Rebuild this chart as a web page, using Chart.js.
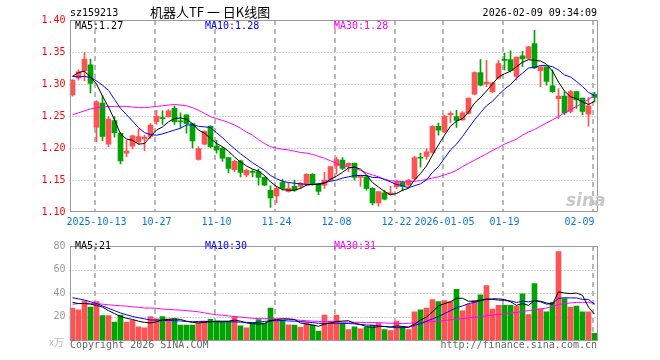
<!DOCTYPE html>
<html>
<head>
<meta charset="utf-8">
<script src="https://cdn.jsdelivr.net/npm/chart.js@4.4.1/dist/chart.umd.min.js"></script>
<style>
  body { margin: 0; background: #fff; }
  #wrap { position: relative; width: 660px; height: 360px; font-family: 'DejaVu Sans Mono', monospace; font-size: 10px; }
  #wrap canvas { position: absolute; left: 0; }
  .txt { position: absolute; white-space: pre; line-height: 10px; }
</style>
</head>
<body>
<div id="wrap">
  <canvas id="priceChart" width="660" height="236" style="top:0"></canvas>
  <canvas id="volChart" width="660" height="124" style="top:236px"></canvas>
  <div class="txt" style="left:70px;top:8px;">sz159213</div>
  <div class="txt" style="left:150px;top:5px;line-height:14px;font-size:13px;font-family:'Noto Sans CJK SC',sans-serif;">机器人TF 一 日K线图</div>
  <div class="txt" style="right:63px;top:8px;">2026-02-09 09:34:09</div>
  <div class="txt" style="left:75px;top:21px;color:#000;">MA5:1.27</div>
  <div class="txt" style="left:205px;top:21px;color:#0000ff;">MA10:1.28</div>
  <div class="txt" style="left:334px;top:21px;color:#ff00ff;">MA30:1.28</div>
  <div class="txt" style="left:75px;top:241px;color:#000;">MA5:21</div>
  <div class="txt" style="left:205px;top:241px;color:#0000ff;">MA10:30</div>
  <div class="txt" style="left:334px;top:241px;color:#ff00ff;">MA30:31</div>
  <div class="txt" style="left:49px;top:337px;color:#bbb;font-family:'Noto Sans CJK SC',sans-serif;">x万</div>
  <div class="txt" style="left:70px;top:340px;color:#666;">Copyright 2026 SINA.COM</div>
  <div class="txt" style="right:63px;top:340px;color:#666;">http://finance.sina.com.cn</div>
  <div class="txt" style="left:566px;top:190px;color:#c8c8c8;font:italic bold 17px 'DejaVu Sans',sans-serif;">sina</div>
</div>
<script>
'use strict';

// trading days shown on the chart
const dates = [
  '2025-09-29','2025-09-30','2025-10-09','2025-10-10',
  '2025-10-13','2025-10-14','2025-10-15','2025-10-16','2025-10-17',
  '2025-10-20','2025-10-21','2025-10-22','2025-10-23','2025-10-24',
  '2025-10-27','2025-10-28','2025-10-29','2025-10-30','2025-10-31',
  '2025-11-03','2025-11-04','2025-11-05','2025-11-06','2025-11-07',
  '2025-11-10','2025-11-11','2025-11-12','2025-11-13','2025-11-14',
  '2025-11-17','2025-11-18','2025-11-19','2025-11-20','2025-11-21',
  '2025-11-24','2025-11-25','2025-11-26','2025-11-27','2025-11-28',
  '2025-12-01','2025-12-02','2025-12-03','2025-12-04','2025-12-05',
  '2025-12-08','2025-12-09','2025-12-10','2025-12-11','2025-12-12',
  '2025-12-15','2025-12-16','2025-12-17','2025-12-18','2025-12-19',
  '2025-12-22','2025-12-23','2025-12-24','2025-12-25','2025-12-26',
  '2025-12-29','2025-12-30','2025-12-31',
  '2026-01-05','2026-01-06','2026-01-07','2026-01-08','2026-01-09',
  '2026-01-12','2026-01-13','2026-01-14','2026-01-15','2026-01-16',
  '2026-01-19','2026-01-20','2026-01-21','2026-01-22','2026-01-23',
  '2026-01-26','2026-01-27','2026-01-28','2026-01-29','2026-01-30',
  '2026-02-02','2026-02-03','2026-02-04','2026-02-05','2026-02-06',
  '2026-02-09'
];

const tickDates = ['2025-10-13','2025-10-27','2025-11-10','2025-11-24','2025-12-08','2025-12-22','2026-01-05','2026-01-19','2026-02-09'];
const tickText = ['2025-10-13','10-27','11-10','11-24','12-08','12-22','2026-01-05','01-19','02-09     '];
const priceTicks = [1.40, 1.35, 1.30, 1.25, 1.20, 1.15, 1.10];
const volTicks = [80, 60, 40, 20, 0];

const open = [1.283,1.309,1.321,1.330,1.232,1.270,1.206,1.243,1.223,1.192,
  1.203,1.209,1.214,1.218,1.241,1.247,1.249,1.262,1.242,1.252,
  1.238,1.182,1.206,1.234,1.203,1.200,1.185,1.166,1.180,1.158,
  1.163,1.163,1.154,1.134,1.125,1.146,1.132,1.140,1.140,1.144,
  1.159,1.144,1.142,1.150,1.172,1.181,1.172,1.176,1.154,1.155,
  1.137,1.114,1.130,1.127,1.139,1.147,1.142,1.152,1.185,1.187,
  1.193,1.234,1.226,1.252,1.249,1.244,1.254,1.284,1.318,1.300,
  1.288,1.309,1.338,1.338,1.312,1.344,1.340,1.363,1.321,1.327,
  1.297,1.277,1.281,1.257,1.288,1.278,1.253,1.284];
const high = [1.307,1.322,1.349,1.339,1.274,1.282,1.249,1.249,1.224,1.212,
  1.220,1.230,1.220,1.238,1.259,1.258,1.260,1.266,1.255,1.252,
  1.238,1.202,1.227,1.235,1.212,1.201,1.185,1.181,1.181,1.167,
  1.166,1.167,1.155,1.141,1.140,1.151,1.146,1.150,1.146,1.160,
  1.160,1.145,1.162,1.171,1.186,1.185,1.177,1.177,1.158,1.156,
  1.138,1.132,1.134,1.140,1.150,1.148,1.151,1.187,1.192,1.199,
  1.235,1.239,1.251,1.257,1.259,1.257,1.278,1.319,1.338,1.337,
  1.303,1.337,1.348,1.352,1.342,1.351,1.359,1.384,1.327,1.327,
  1.322,1.293,1.288,1.290,1.288,1.278,1.279,1.287];
const low = [1.281,1.306,1.305,1.286,1.210,1.211,1.202,1.217,1.175,1.186,
  1.198,1.206,1.196,1.215,1.237,1.237,1.248,1.237,1.231,1.223,
  1.200,1.181,1.205,1.200,1.192,1.179,1.161,1.163,1.155,1.155,
  1.155,1.142,1.141,1.107,1.114,1.134,1.131,1.132,1.137,1.142,
  1.142,1.127,1.137,1.149,1.159,1.166,1.163,1.150,1.140,1.134,
  1.111,1.109,1.119,1.126,1.137,1.133,1.140,1.150,1.170,1.182,
  1.191,1.220,1.224,1.239,1.232,1.243,1.253,1.283,1.297,1.296,
  1.286,1.308,1.322,1.319,1.306,1.327,1.339,1.324,1.296,1.298,
  1.287,1.246,1.252,1.255,1.262,1.252,1.234,1.272];
const close = [1.306,1.319,1.339,1.301,1.272,1.218,1.245,1.224,1.180,1.195,
  1.219,1.218,1.217,1.236,1.250,1.246,1.258,1.241,1.241,1.238,
  1.211,1.199,1.226,1.202,1.197,1.184,1.168,1.179,1.162,1.165,
  1.162,1.154,1.142,1.122,1.137,1.137,1.137,1.134,1.145,1.159,
  1.143,1.132,1.150,1.171,1.182,1.168,1.176,1.154,1.156,1.137,
  1.114,1.132,1.120,1.130,1.147,1.140,1.150,1.185,1.184,1.194,
  1.234,1.228,1.250,1.254,1.243,1.255,1.278,1.318,1.298,1.303,
  1.302,1.332,1.337,1.321,1.342,1.339,1.358,1.325,1.327,1.304,
  1.288,1.281,1.255,1.288,1.275,1.257,1.266,1.279];

// volume, 万
const volume = [27.2,25.6,33.3,28.0,32.8,20.8,20.8,15.2,21.3,15.2,
  16.8,11.2,10.4,20.0,18.1,20.0,18.1,18.1,12.8,12.8,
  12.8,14.7,16.0,17.6,16.0,15.5,15.5,20.0,12.0,10.4,
  13.9,17.3,14.4,27.2,17.3,16.8,13.0,12.8,10.7,14.7,
  12.8,7.5,21.3,16.0,21.3,14.4,8.8,11.2,9.6,10.7,
  12.8,14.4,8.8,8.0,16.0,11.2,8.8,24.0,25.6,27.2,
  34.4,32.8,33.6,32.8,43.2,24.8,30.4,33.6,38.4,46.4,
  26.4,29.6,29.6,29.6,28.8,39.2,21.6,48.0,26.4,24.0,
  32.0,75.2,35.2,28.0,28.8,24.0,24.0,5.6];

const ma5 = [1.312,1.318,1.320,1.311,1.300,1.281,1.264,1.244,1.222,1.214,
  1.212,1.206,1.207,1.218,1.228,1.233,1.241,1.246,1.247,1.245,
  1.238,1.228,1.223,1.215,1.207,1.202,1.195,1.186,1.178,1.172,
  1.167,1.164,1.157,1.147,1.140,1.135,1.134,1.134,1.137,1.142,
  1.143,1.143,1.145,1.151,1.156,1.162,1.169,1.170,1.167,1.158,
  1.146,1.139,1.132,1.127,1.129,1.134,1.137,1.150,1.160,1.172,
  1.189,1.205,1.220,1.234,1.242,1.246,1.256,1.270,1.279,1.289,
  1.300,1.311,1.316,1.320,1.327,1.334,1.338,1.337,1.336,1.331,
  1.320,1.303,1.289,1.280,1.277,1.272,1.268,1.273];
const ma10 = [1.312,1.311,1.312,1.310,1.305,1.298,1.290,1.276,1.262,1.252,
  1.242,1.232,1.224,1.221,1.220,1.222,1.225,1.228,1.231,1.236,
  1.236,1.234,1.233,1.232,1.224,1.216,1.207,1.199,1.191,1.184,
  1.177,1.171,1.165,1.157,1.152,1.148,1.146,1.145,1.144,1.143,
  1.143,1.144,1.146,1.148,1.150,1.153,1.155,1.157,1.157,1.157,
  1.154,1.154,1.151,1.147,1.143,1.141,1.138,1.141,1.144,1.150,
  1.162,1.171,1.184,1.197,1.206,1.218,1.231,1.244,1.255,1.266,
  1.273,1.283,1.292,1.299,1.309,1.317,1.325,1.326,1.329,1.329,
  1.327,1.322,1.314,1.311,1.304,1.296,1.287,1.282];
const ma30 = [1.252,1.255,1.258,1.261,1.263,1.264,1.265,1.265,1.265,1.265,
  1.264,1.263,1.263,1.264,1.265,1.266,1.267,1.268,1.267,1.266,
  1.263,1.259,1.254,1.249,1.246,1.243,1.240,1.236,1.231,1.225,
  1.220,1.213,1.207,1.202,1.200,1.198,1.197,1.195,1.193,1.192,
  1.190,1.187,1.184,1.180,1.176,1.173,1.170,1.168,1.165,1.161,
  1.158,1.155,1.151,1.149,1.148,1.147,1.147,1.148,1.149,1.151,
  1.153,1.155,1.158,1.161,1.165,1.171,1.176,1.181,1.186,1.191,
  1.196,1.201,1.206,1.210,1.214,1.220,1.225,1.229,1.234,1.239,
  1.244,1.249,1.255,1.260,1.265,1.270,1.276,1.282];

const volMa5 = [32,31,31,30.5,29.5,28,25,22.5,20,18.5,
  17.5,16,15,14.5,15.5,17,17.5,18,17.5,16,
  15,14.5,15,15.5,16,16,16,17,16,14.5,
  14,13.5,14,16.5,17.5,18,18,17.5,14.5,13.5,
  12.8,11.7,13.4,14.5,15.8,16.1,16.4,14.3,13.1,11.5,
  10.5,11.5,11.5,11,12,11.5,11,13.5,17,19.5,
  24,29,31,32.5,35.5,35.5,33,33,34,34.5,
  35,35,34.5,32.5,29.5,31,29.5,33.5,33,31.5,
  30.5,41,40,39.5,40,38,28,22];
const volMa10 = [36,35,34,32.5,31,29,27,25,23,21.5,
  20,19,18,17,17,16.8,16.6,16.4,16.2,15.8,
  15.5,15.8,15.8,15.6,15.5,15.5,15.5,15.5,15.2,15,
  14.8,15.2,15.8,16.3,16.5,16.5,16.2,16,15.7,15.3,
  14.8,14.2,14,14.2,14.3,14.2,14,13.8,13.2,12.8,
  12.5,12,11.5,11,10.5,10.5,10.8,12.5,14,16,
  18,20,22.5,25,27.5,29,31,32,33.3,35,
  34.5,34,33.6,33.3,32,33,32.5,33.5,32.5,30.5,
  31,35.4,36,35.8,35.8,34.5,34.5,30.5];
const volMa30 = [30.4,31,31.2,31.2,31,30.5,30,29.5,29.2,28.8,
  28.3,27.8,27.2,27.2,27,26.3,26,25.7,25.4,25,
  24.5,24,23,22.2,21.5,21,20.5,20,19.5,19,
  18.5,18.2,18.1,18.1,18,17.8,17.5,17.2,16.8,16.4,
  16,15.8,15.6,15.5,15.4,15.3,15.2,15.1,15,14.9,
  14.8,14.7,14.5,14.3,14.1,14,14.2,14.6,15,15.4,
  15.7,16,16.6,17.2,17.7,18.1,18.8,19.4,20,20.6,
  21.2,21.8,22.4,23,23.5,24.2,25,25.8,26.5,27.2,
  28.5,30.2,31,31.5,32,32,32,31];

const RED = '#ff5252';
const GREEN = '#00a400';
const candleColors = open.map((o, i) => (close[i] >= o ? RED : GREEN));
const tickIdx = tickDates.map(d => dates.indexOf(d));
const monoFont = { family: 'DejaVu Sans Mono', size: 10 };

// dotted price levels, dashed date lines and the frame
const klineGrid = {
  id: 'klineGrid',
  beforeDatasetsDraw(chart, args, opts) {
    const { ctx, chartArea: a, scales } = chart;
    ctx.save();
    ctx.lineWidth = 1;
    ctx.strokeStyle = '#a0a0a0';
    ctx.setLineDash([1, 2]);
    opts.levels.forEach(v => {
      const py = Math.round(scales.y.getPixelForValue(v)) + 0.5;
      ctx.beginPath();
      ctx.moveTo(a.left, py);
      ctx.lineTo(a.right, py);
      ctx.stroke();
    });
    ctx.lineWidth = 2;
    ctx.strokeStyle = '#b8b8b8';
    ctx.setLineDash([5, 4]);
    tickIdx.forEach(i => {
      const px = Math.round(scales.x.getPixelForValue(i) - 1.5);
      ctx.beginPath();
      ctx.moveTo(px, a.top);
      ctx.lineTo(px, a.bottom);
      ctx.stroke();
    });
    ctx.restore();
  },
  afterDatasetsDraw(chart, args, opts) {
    const { ctx, chartArea: a } = chart;
    ctx.save();
    ctx.lineWidth = 1;
    ctx.strokeStyle = '#999';
    ctx.strokeRect(70.5, a.top + 0.5, 527, a.bottom - a.top - opts.inset);
    ctx.restore();
  }
};

function maLine(data, color) {
  return { type: 'line', data: data, borderColor: color, borderWidth: 1, pointRadius: 0, tension: 0, order: 0 };
}

new Chart(document.getElementById('priceChart'), {
  data: {
    labels: dates,
    datasets: [
      maLine(ma5, '#000000'),
      maLine(ma10, '#0000ff'),
      maLine(ma30, '#ff00ff'),
      { type: 'bar', data: open.map((o, i) => [o, close[i]]), backgroundColor: candleColors,
        barThickness: 5, minBarLength: 1, grouped: false, order: 1 },
      { type: 'bar', data: low.map((l, i) => [l, high[i]]), backgroundColor: candleColors,
        barThickness: 1, grouped: false, order: 2 }
    ]
  },
  options: {
    responsive: false,
    animation: false,
    events: [],
    layout: { padding: { top: 20, right: 62.5, bottom: 0, left: 0 } },
    plugins: { legend: { display: false }, tooltip: { enabled: false }, klineGrid: { levels: priceTicks.slice(1, -1), inset: 1 } },
    scales: {
      x: {
        offset: true,
        grid: { display: false, drawTicks: false },
        border: { display: false },
        afterBuildTicks: s => { s.ticks = tickIdx.map(i => ({ value: i })); },
        afterFit: s => { s.height = 24; },
        ticks: { autoSkip: false, maxRotation: 0, padding: 4, color: '#0a78d2', font: monoFont,
          callback: v => tickText[tickIdx.indexOf(v)] }
      },
      y: {
        min: 1.10, max: 1.40,
        grid: { display: false, drawTicks: false },
        border: { display: false },
        afterBuildTicks: s => { s.ticks = priceTicks.map(v => ({ value: v })); },
        afterFit: s => { s.width = 69.5; },
        ticks: { padding: 4, color: '#ff0000', font: monoFont, callback: v => v.toFixed(2) }
      }
    }
  },
  plugins: [klineGrid]
});

new Chart(document.getElementById('volChart'), {
  data: {
    labels: dates,
    datasets: [
      maLine(volMa5, '#000000'),
      maLine(volMa10, '#0000ff'),
      maLine(volMa30, '#ff00ff'),
      { type: 'bar', data: volume, backgroundColor: candleColors, barThickness: 5, order: 1 }
    ]
  },
  options: {
    responsive: false,
    animation: false,
    events: [],
    layout: { padding: { top: 4, right: 62.5, bottom: 20, left: 0 } },
    plugins: { legend: { display: false }, tooltip: { enabled: false }, klineGrid: { levels: volTicks.slice(1, -1), inset: 0 } },
    scales: {
      x: { display: false, offset: true },
      y: {
        min: 0, max: 80,
        grid: { display: false, drawTicks: false },
        border: { display: false },
        afterBuildTicks: s => { s.ticks = volTicks.map(v => ({ value: v })); },
        afterFit: s => { s.width = 69.5; },
        ticks: { padding: 4, color: '#999', font: monoFont, callback: v => (v === 0 ? '' : v) }
      }
    }
  },
  plugins: [klineGrid]
});
</script>
</body>
</html>
